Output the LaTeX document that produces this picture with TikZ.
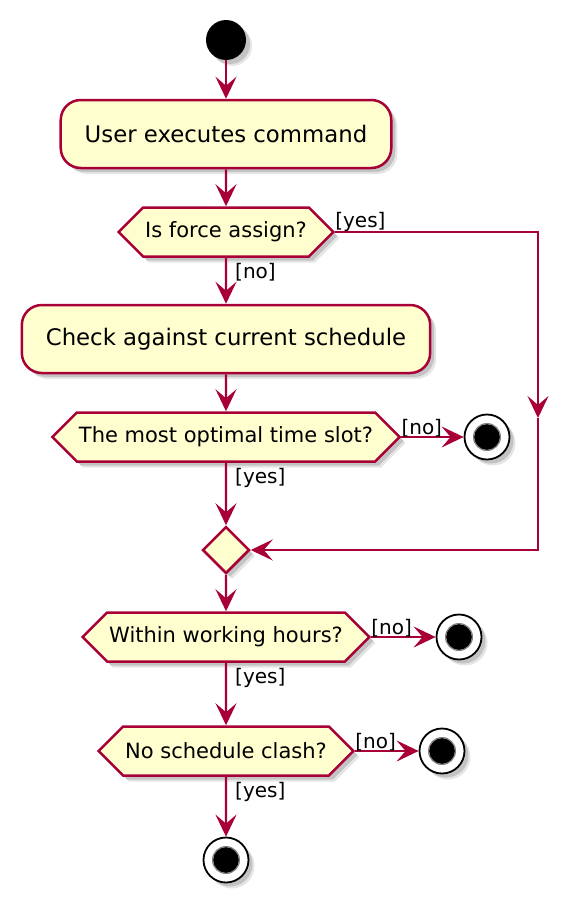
\documentclass[tikz,border=0pt]{standalone}
\usepackage{fontspec}
\setmainfont{DejaVu Sans}
\usetikzlibrary{arrows.meta,shapes.symbols,shapes.geometric,shadows}

\definecolor{umlred}{HTML}{A80036}
\definecolor{umlfill}{HTML}{FEFECE}

\begin{document}
\begin{tikzpicture}[
		x = 1pt, y = -1pt,
		shadowed/.style = {drop shadow={shadow xshift=4pt, shadow yshift=-4pt, fill=black, opacity=0.15},
			drop shadow={shadow xshift=6pt, shadow yshift=-6pt, fill=black, opacity=0.1}},
		action/.style = {draw=umlred, fill=umlfill, line width=2.5pt, rounded corners=20pt, minimum height=68pt, inner xsep=24pt, font=\fontsize{22.8pt}{27pt}\selectfont, shadowed},
		choice/.style = {signal, signal to=east and west, draw=umlred, fill=umlfill, line width=2.5pt, minimum height=49pt, inner xsep=2pt, inner ysep=0pt, font=\fontsize{21pt}{25pt}\selectfont, shadowed},
		junction/.style = {diamond, draw=umlred, fill=umlfill, line width=2.5pt, minimum size=47pt, inner sep=0pt, shadowed},
		startdot/.style = {circle, fill=black, minimum size=40pt, inner sep=0pt, shadowed},
		enddot/.style = {circle, draw=black, fill=white, line width=1.8pt, minimum size=45pt, inner sep=0pt, shadowed,
			path picture={\fill[black] (path picture bounding box.center) circle (13pt);
				\draw[gray, line width=1.2pt] (path picture bounding box.center) circle (13.4pt);}},
		flow/.style = {draw=umlred, line width=2.4pt, -{Stealth[length=22pt, width=21pt, inset=9pt]}},
		guard/.style = {inner sep=0pt, font=\fontsize{20pt}{24pt}\selectfont}
	]

	\useasboundingbox (0,0) rectangle (583,902);

	\node[startdot] (start) at (226,40) {};
	\node[action] (act1) at (226,134) {User executes command};
	\node[choice] (q1) at (226,232) {Is force assign?};
	\node[action] (act2) at (226,339) {Check against current schedule};
	\node[choice] (q2) at (226,437) {The most optimal time slot?};
	\node[junction] (merge) at (226,550) {};
	\node[choice] (q3) at (226,637) {Within working hours?};
	\node[choice] (q4) at (226,751) {No schedule clash?};

	\foreach \n/\x/\y in {stop1/487/437, stop2/459/637, stop3/442/751, stop4/226/860}{
		\node[enddot] (\n) at (\x,\y) {};
	}

	\coordinate (bend) at (538,418);

	\draw[flow] (start) -- (act1);
	\draw[flow] (act1) -- (q1);
	\draw[flow] (q1) -- (act2);
	\draw[flow] (act2) -- (q2);
	\draw[flow] (q2) -- (merge);
	\draw[flow] (merge) -- (q3);
	\draw[flow] (q3) -- (q4);
	\draw[flow] (q4) -- (stop4);

	\draw[flow] (q1.east) -| (bend);
	\draw[flow] (bend) |- (merge.east);
	\node[guard, anchor=south west] (yesq1) at (q1.east) {[yes]};
	\node[guard, anchor=north west] (noq1) at ([shift={(9,5)}]q1.south) {[no]};

	\foreach \q/\s in {q2/stop1, q3/stop2, q4/stop3}{
		\draw[flow] (\q.east) -- (\s);
		\node[guard, anchor=south west] (no\q) at (\q.east) {[no]};
		\node[guard, anchor=north west] (yes\q) at ([shift={(9,5)}]\q.south) {[yes]};
	}

\end{tikzpicture}
\end{document}
